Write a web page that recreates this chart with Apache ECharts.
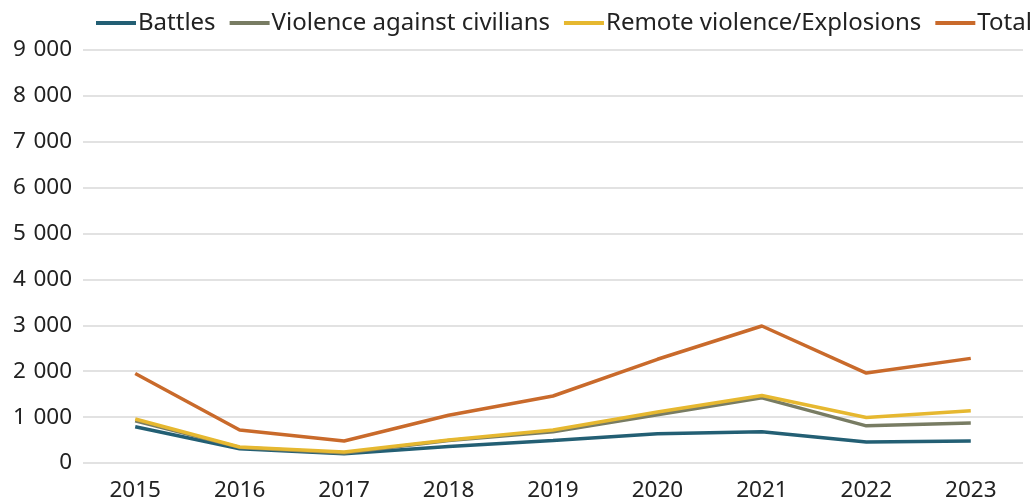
<!DOCTYPE html>
<html><head><meta charset="utf-8">
<script src="https://cdn.jsdelivr.net/npm/echarts@6/dist/echarts.min.js"></script>
<style>html,body{margin:0;padding:0;background:#fff}#c{width:1035px;height:503px}</style>
</head><body><div id="c"></div>
<script>
var years = ['2015','2016','2017','2018','2019','2020','2021','2022','2023'];
var battles = [790, 310, 200, 360, 490, 640, 680, 460, 480];
var violenceCivilians = [920, 340, 220, 490, 680, 1050, 1420, 810, 870];
var remoteViolence = [960, 350, 240, 500, 720, 1110, 1470, 990, 1140];
var total = [1950, 720, 480, 1040, 1460, 2260, 2985, 1960, 2280];
var seriesNames = ['Battles','Violence against civilians','Remote violence/Explosions','Total'];
var colors = ['#235f74','#787c63','#e6b830','#c96a2b'];
var chart = echarts.init(document.getElementById('c'));
var font = 'Noto Sans';
function mk(name, data, color){
  return {name:name,type:'line',data:data,symbol:'none',smooth:false,
    lineStyle:{width:3.5,color:color},itemStyle:{color:color}};
}
chart.setOption({
  animation:false,
  textStyle:{fontFamily:font},
  legend:{top:6,left:91,width:1000,itemWidth:40,itemHeight:4,itemGap:14,icon:'rect',
    textStyle:{fontSize:24,color:'#222',fontFamily:font,padding:[0,0,0,-3]},
    data:seriesNames},
  grid:{left:83,right:12,top:50,bottom:40},
  xAxis:{type:'category',data:years,boundaryGap:true,
    axisLine:{show:false},axisTick:{show:false},
    axisLabel:{fontSize:22.5,color:'#222',margin:16,fontFamily:font}},
  yAxis:{type:'value',min:0,max:9000,interval:1000,
    axisLabel:{fontSize:22.5,color:'#222',margin:11,fontFamily:font,
      formatter:function(v){return v===0?'0':String(v).replace(/\B(?=(\d{3})+(?!\d))/g,'\u2004');}},
    splitLine:{lineStyle:{color:'#d9d9d9',width:1.5}}},
  series:[mk(seriesNames[0],battles,colors[0]),mk(seriesNames[1],violenceCivilians,colors[1]),
    mk(seriesNames[2],remoteViolence,colors[2]),mk(seriesNames[3],total,colors[3])]
});
</script></body></html>
